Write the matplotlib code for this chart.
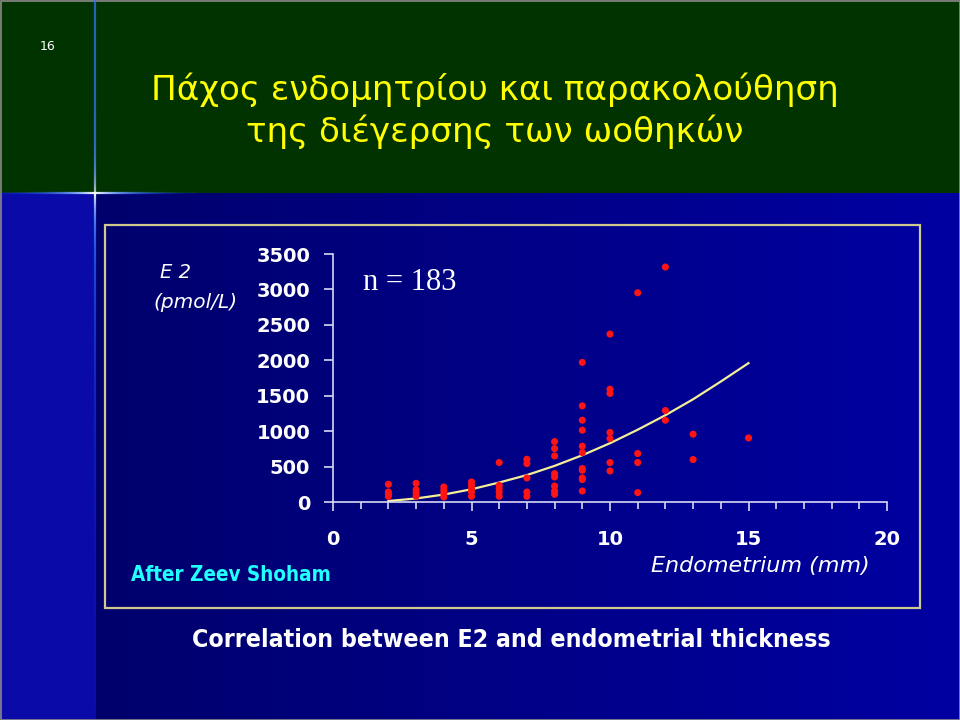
import matplotlib.pyplot as plt
import numpy as np
from matplotlib.collections import LineCollection
from matplotlib.colors import to_rgb
from matplotlib.patches import Rectangle

# values: endometrium (mm) vs E2 (pmol/L)
thickness = [2, 2, 2, 2,
             3, 3, 3, 3,
             4, 4, 4, 4,
             5, 5, 5, 5, 5,
             6, 6, 6, 6, 6,
             7, 7, 7, 7, 7,
             8, 8, 8, 8, 8, 8, 8, 8,
             9, 9, 9, 9, 9, 9, 9, 9, 9, 9, 9,
             10, 10, 10, 10, 10, 10, 10,
             11, 11, 11, 11,
             12, 12, 12,
             13, 13,
             15]
e2 = [250, 141, 110, 80,
      264, 175, 127, 80,
      212, 165, 119, 71,
      283, 236, 189, 141, 80,
      557, 236, 189, 141, 80,
      603, 542, 339, 141, 80,
      853, 754, 650, 401, 353, 226, 155, 109,
      1970, 1357, 1154, 1013, 787, 698, 472, 448, 339, 316, 155,
      2370, 1592, 1532, 981, 896, 557, 438,
      2953, 684, 557, 133,
      3316, 1291, 1154,
      957, 599,
      904]

# regression curve as drawn on the slide
trend_x = [2, 3, 4, 5, 6, 7, 8, 9, 10, 11, 12, 13, 14, 15]
trend_y = [14, 50, 105, 180, 275, 380, 510, 660, 830, 1020, 1225, 1450, 1700, 1960]

x_ticks = [0, 5, 10, 15, 20]
y_ticks = [0, 500, 1000, 1500, 2000, 2500, 3000, 3500]

title_1 = "Πάχος ενδομητρίου και παρακολούθηση"
title_2 = "της διέγερσης των ωοθηκών"

fig = plt.figure(figsize=(9.6, 7.2), dpi=100)
fig.patch.set_facecolor("#00007a")

# slide background, drawn in pixel coordinates
bg = fig.add_axes([0, 0, 1, 1])
bg.set_xlim(0, 960)
bg.set_ylim(720, 0)
bg.axis("off")

bg.add_patch(Rectangle((0, 0), 960, 193, color="#013301", zorder=0))
bg.add_patch(Rectangle((0, 193), 96, 527, color="#0a0aa8", zorder=0))
c0, c1 = np.array(to_rgb("#00006c")), np.array(to_rgb("#0000a2"))
t = np.linspace(0, 1, 256)[:, None]
grad = (c0 * (1 - t) + c1 * t)[None, :, :]
bg.imshow(grad, extent=[96, 960, 720, 193], aspect="auto", zorder=0.5)
bg.add_patch(Rectangle((0.5, 0.5), 959, 719, fill=False, ec="#8a8a8a", lw=1.2, zorder=1))


def flare_line(ax, pts, center, spread_white, fade):
    segs, cols = [], []
    blue = np.array(to_rgb("#2f72ff"))
    white = np.array([1.0, 1.0, 1.0])
    for p, q in zip(pts[:-1], pts[1:]):
        segs.append([p, q])
        mx = (p[0] + q[0]) / 2 - center[0]
        my = (p[1] + q[1]) / 2 - center[1]
        d = np.hypot(mx, my)
        w = np.exp(-d / spread_white)
        a = fade(mx, my)
        cols.append((*(blue * (1 - w) + white * w), a))
    ax.add_collection(LineCollection(segs, colors=cols, linewidths=1.6, zorder=2))


cx, cy = 95, 193
vy = np.arange(0, 722, 2)
flare_line(bg, [(cx, y) for y in vy], (cx, cy), 18,
           lambda mx, my: 0.75 if my < 0 else float(np.exp(-my / 140)))
hx = np.arange(0, 200, 2)
flare_line(bg, [(x, cy) for x in hx], (cx, cy), 22,
           lambda mx, my: float(np.exp(-(mx / 60) ** 2)))

# chart frame
bg.add_patch(Rectangle((105, 225), 815, 383, fill=False, ec="#cfc98e", lw=1.6, zorder=2))

bg.text(48, 47, "16", color="white", fontsize=9, ha="center", va="center")
bg.text(495, 90, title_1, color="#ffff00", fontsize=24.6, ha="center", va="center")
bg.text(495, 132, title_2, color="#ffff00", fontsize=24.6, ha="center", va="center")

bg.text(176, 273, "E 2", color="white", fontsize=14, style="italic", ha="center", va="center")
bg.text(196, 302, "(pmol/L)", color="white", fontsize=14.5, style="italic", ha="center", va="center")
bg.text(363, 283, "n = 183", color="white", fontsize=22, family=["Liberation Serif", "DejaVu Serif"],
        ha="left", va="center")
bg.text(760, 566, "Endometrium (mm)", color="white", fontsize=16, style="italic",
        ha="center", va="center")
bg.text(231, 575, "After Zeev Shoham", color="#22ffff", fontsize=14.8, weight="bold",
        stretch="condensed", family="DejaVu Sans", ha="center", va="center")
bg.text(511, 640, "Correlation between E2 and endometrial thickness", color="white",
        fontsize=17.8, weight="bold", stretch="condensed", family="DejaVu Sans",
        ha="center", va="center")

# data axes
ax = fig.add_axes([333 / 960, (720 - 502) / 720, (887 - 333) / 960, (502 - 254) / 720])
ax.set_facecolor("none")
ax.set_xlim(0, 20)
ax.set_ylim(0, 3500)
for s in ("top", "right"):
    ax.spines[s].set_visible(False)
axis_col = "#d8d8f4"
for s in ("left", "bottom"):
    ax.spines[s].set_color(axis_col)
    ax.spines[s].set_linewidth(1.2)
ax.set_xticks(x_ticks)
ax.set_xticks(range(0, 21), minor=True)
ax.set_yticks(y_ticks)
ax.tick_params(axis="x", which="major", length=6.5, width=1.2, color=axis_col, pad=14,
               labelcolor="white", labelsize=14)
ax.tick_params(axis="x", which="minor", length=5, width=1.2, color=axis_col)
ax.tick_params(axis="y", length=6.5, width=1.2, color=axis_col, pad=10,
               labelcolor="white", labelsize=14)
for lab in ax.get_xticklabels() + ax.get_yticklabels():
    lab.set_fontweight("bold")

ax.plot(trend_x, trend_y, color="#f4ee96", lw=1.6, zorder=2)
ax.scatter(thickness, e2, s=26, color="#ff1414", edgecolors="none", zorder=3, clip_on=False)

fig.savefig("out.png", dpi=100, facecolor=fig.get_facecolor())
